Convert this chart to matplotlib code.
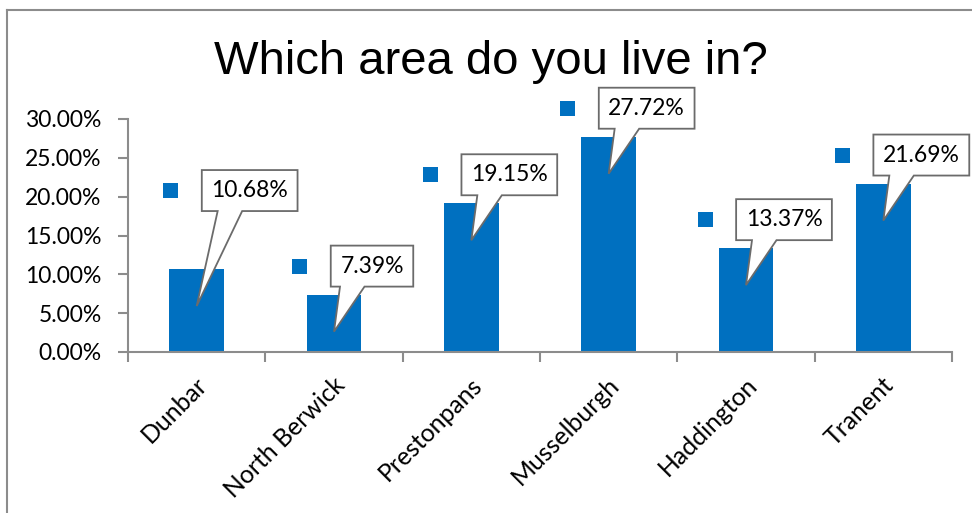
import matplotlib
matplotlib.use("Agg")
import matplotlib.pyplot as plt
from matplotlib.patches import Polygon, Rectangle
from matplotlib.lines import Line2D
from matplotlib.ticker import FuncFormatter
from matplotlib.transforms import IdentityTransform, ScaledTranslation

# survey answers, percent of respondents
areas = ["Dunbar", "North Berwick", "Prestonpans", "Musselburgh", "Haddington", "Tranent"]
shares = [10.68, 7.39, 19.15, 27.72, 13.37, 21.69]
y_ticks = [0, 5, 10, 15, 20, 25, 30]

BLUE = "#0070C0"
GREY = "#8c8c8c"
FONT = "Lato"
W, H = 972, 513

fig = plt.figure(figsize=(W / 100, H / 100), dpi=100)
ax = fig.add_axes([128 / W, 1 - 352 / H, (952 - 128) / W, (352 - 119) / H])

x = list(range(len(areas)))
ax.bar(x, shares, width=0.4, color=BLUE, zorder=2)
ax.set_xlim(-0.5, len(areas) - 0.5)
ax.set_ylim(y_ticks[0], y_ticks[-1])

# y axis
ax.set_yticks(y_ticks)
ax.yaxis.set_major_formatter(FuncFormatter(lambda v, _: f"{v:.2f}%"))
ax.tick_params(axis="y", length=7, width=1.5, color=GREY, pad=12,
               labelsize=16.5)

# x axis: tick marks between categories, labels under the bars
ax.set_xticks([i - 0.5 for i in range(len(areas) + 1)])
ax.set_xticklabels([])
ax.set_xticks(x, areas, minor=True)
ax.tick_params(axis="x", which="major", length=7, width=1.5, color=GREY)
ax.tick_params(axis="x", which="minor", length=0, pad=21, labelsize=17.8)
shift = ScaledTranslation(7 / 100, 0, fig.dpi_scale_trans)
for lbl in ax.get_xticklabels(minor=True):
    lbl.set_rotation(45)
    lbl.set_ha("right")
    lbl.set_va("center")
    lbl.set_rotation_mode("anchor")
    lbl.set_transform(lbl.get_transform() + shift)

for lbl in ax.get_yticklabels() + ax.get_xticklabels(minor=True):
    lbl.set_family(FONT)

for side in ("top", "right"):
    ax.spines[side].set_visible(False)
for side in ("left", "bottom"):
    ax.spines[side].set_color(GREY)
    ax.spines[side].set_linewidth(1.5)

fig.text(490.5 / W, 1 - 74 / H, "Which area do you live in?", ha="center",
         va="baseline", fontsize=34, family="Liberation Sans")

# chart frame (top and left edges)
fig.add_artist(Line2D([7 / W, 7 / W], [0, 1 - 10 / H], color=GREY, lw=1.5,
                      transform=fig.transFigure))
fig.add_artist(Line2D([7 / W, 1], [1 - 10 / H, 1 - 10 / H], color=GREY, lw=1.5,
                      transform=fig.transFigure))

# callout data labels with a legend key beside each one
fig.canvas.draw()
renderer = fig.canvas.get_renderer()
moved = {"Dunbar": (15, 50)}
px = IdentityTransform()
for i, (name, v) in enumerate(zip(areas, shares)):
    cx, top = ax.transData.transform((i, v))
    dx, dy = moved.get(name, (0, 0))
    bx = cx + 38 + dx
    by = top + 28.5 + dy
    t = fig.text(bx, by, f"{v:.2f}%", transform=px, ha="center", va="center",
                 fontsize=16.5, family=FONT, zorder=6)
    hw = t.get_window_extent(renderer).width / 2 + 9.5
    left, right = bx - hw, bx + hw
    bottom, upper = by - 20.5, by + 20.5
    pts = [(left, bottom), (bx - 32, bottom), (cx, top - 37), (bx - 7.5, bottom),
           (right, bottom), (right, upper), (left, upper)]
    fig.add_artist(Polygon(pts, closed=True, transform=px, facecolor="white",
                           edgecolor="#6b6b6b", lw=1.3, zorder=5))
    fig.add_artist(Rectangle((left - 38.5, by - 7.5), 15, 15, transform=px,
                             facecolor=BLUE, edgecolor="none", zorder=5))

fig.savefig("out.png", dpi=100, facecolor="white")
